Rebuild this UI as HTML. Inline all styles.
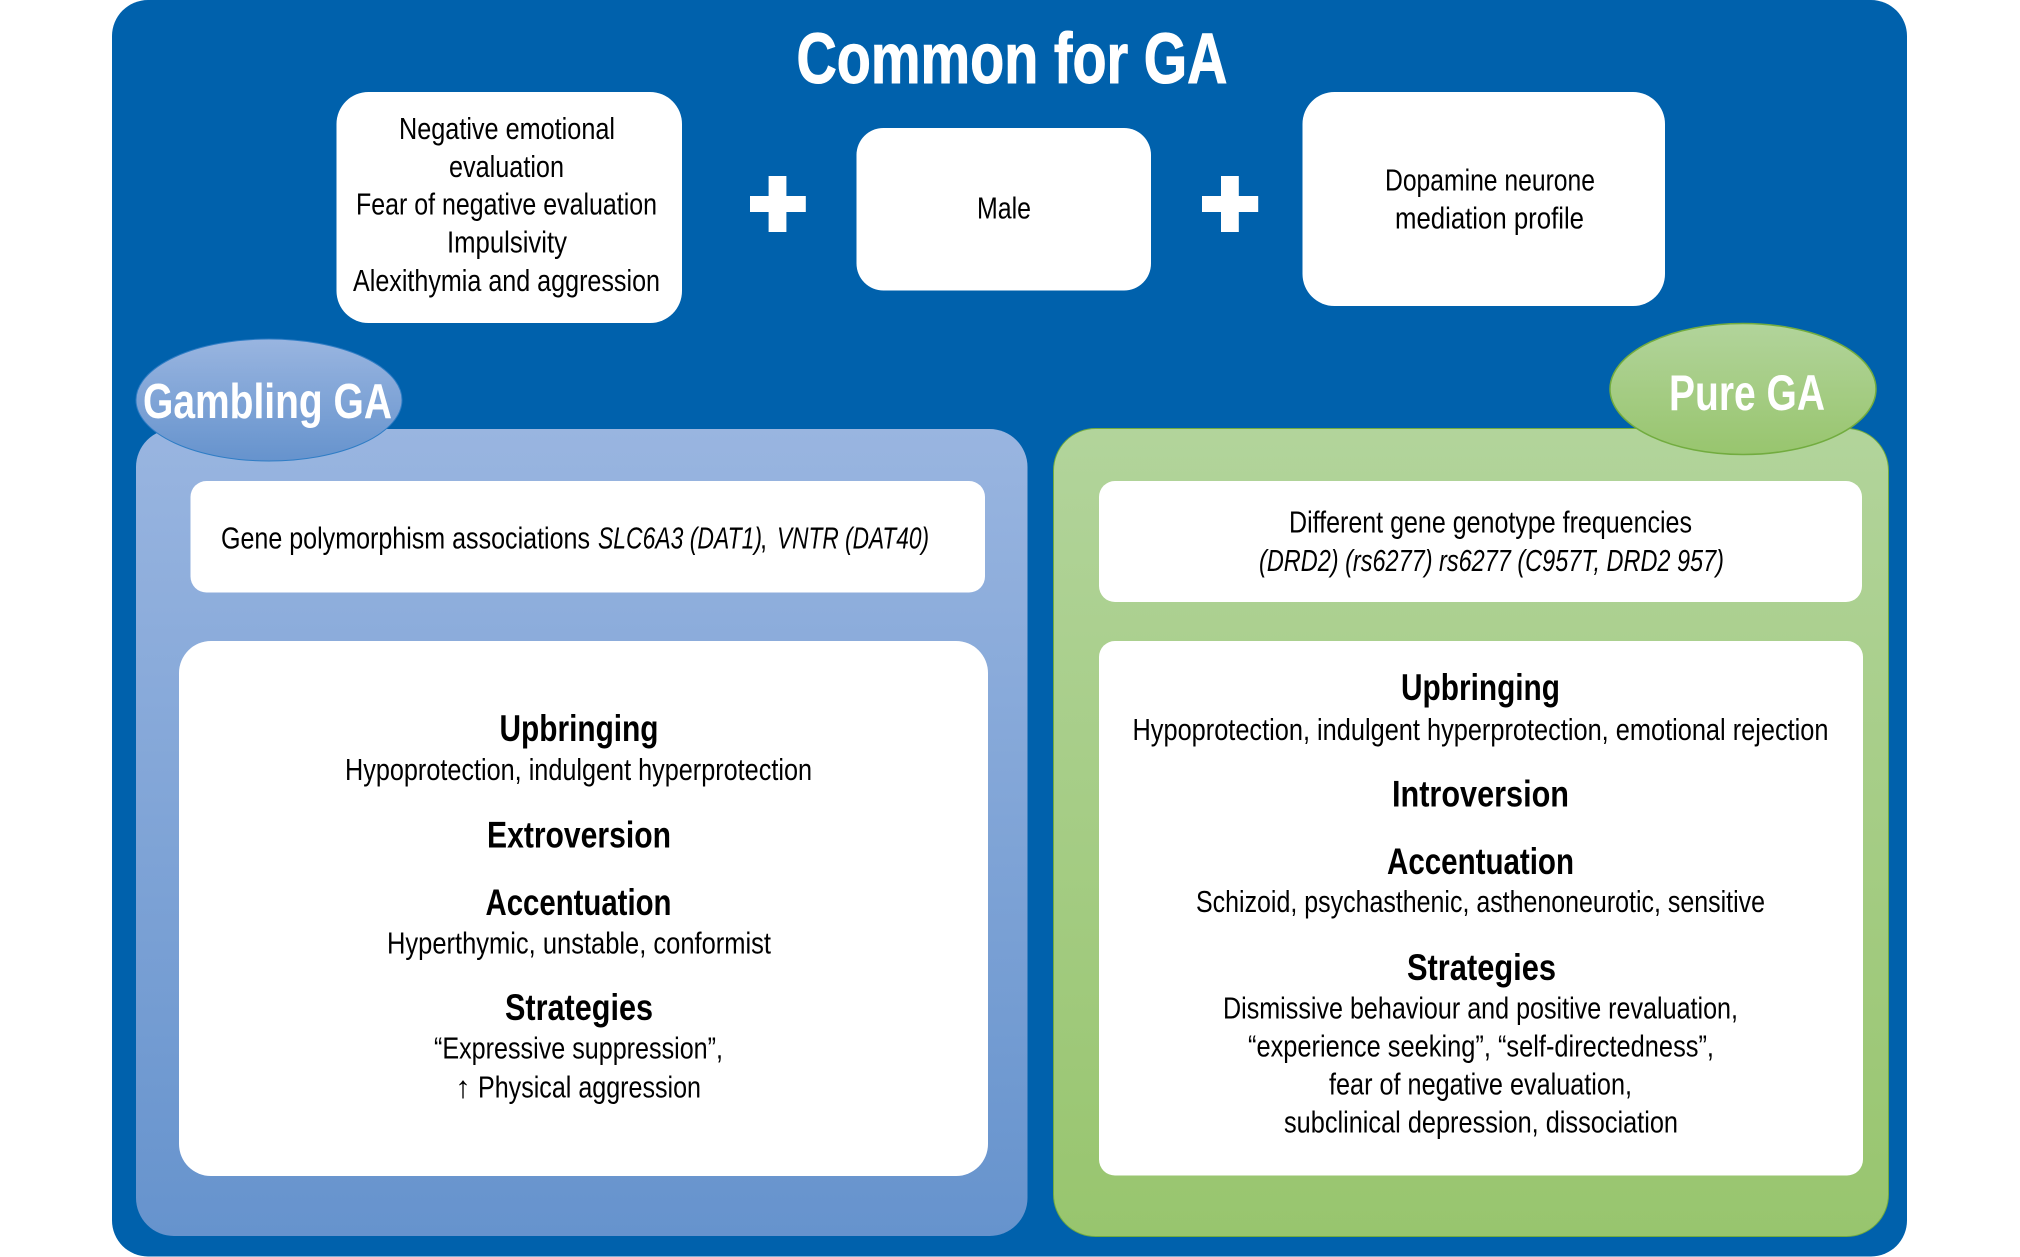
<!DOCTYPE html>
<html>
<head>
<meta charset="utf-8">
<title>Common for GA</title>
<style>
html,body{margin:0;padding:0;background:#fff;width:2020px;height:1257px;overflow:hidden}
svg{display:block}
text{font-family:"Liberation Sans",sans-serif;fill:#000;font-size:30.5px}
.h{font-weight:700;font-size:37px}
.w{font-weight:700;fill:#fff}
.i{font-style:italic}
</style>
</head>
<body>
<svg xmlns="http://www.w3.org/2000/svg" width="2020" height="1257" viewBox="0 0 2020 1257">
<defs>
<linearGradient id="b" x1="0" y1="0" x2="0" y2="1"><stop offset="0" stop-color="#99B5E0"/><stop offset="1" stop-color="#6693CD"/></linearGradient>
<linearGradient id="g" x1="0" y1="0" x2="0" y2="1"><stop offset="0" stop-color="#B2D49B"/><stop offset="1" stop-color="#98C56E"/></linearGradient>
</defs>
<rect x="112" y="0" width="1795" height="1256.5" rx="36" ry="36" fill="#0061AC"/>

<text class="w" x="796.5" y="83" style="font-size:71px;stroke:#fff;stroke-width:1" textLength="431" lengthAdjust="spacingAndGlyphs">Common for GA</text>

<rect x="336.5" y="92" width="345.5" height="231" rx="32" fill="#fff"/>
<text x="399" y="139" textLength="216" lengthAdjust="spacingAndGlyphs">Negative emotional</text>
<text x="449" y="177" textLength="115" lengthAdjust="spacingAndGlyphs">evaluation</text>
<text x="356" y="214.5" textLength="301" lengthAdjust="spacingAndGlyphs">Fear of negative evaluation</text>
<text x="447" y="252.5" textLength="120" lengthAdjust="spacingAndGlyphs">Impulsivity</text>
<text x="353" y="291" textLength="307" lengthAdjust="spacingAndGlyphs">Alexithymia and aggression</text>

<path d="M768.6 176h17.8v20h19.4v16h-19.4v20h-17.8v-20H750v-16h18.6z" fill="#fff"/>
<rect x="856.5" y="128" width="294.5" height="162.5" rx="27" fill="#fff"/>
<text x="977" y="218.5" textLength="54" lengthAdjust="spacingAndGlyphs">Male</text>
<path d="M1221 176h17.8v20h19.4v16h-19.4v20H1221v-20h-19v-16h19z" fill="#fff"/>

<rect x="1302.5" y="92" width="362.5" height="214" rx="32" fill="#fff"/>
<text x="1385" y="190.5" textLength="210" lengthAdjust="spacingAndGlyphs">Dopamine neurone</text>
<text x="1395" y="228.5" textLength="189" lengthAdjust="spacingAndGlyphs">mediation profile</text>

<!-- Gambling panel -->
<rect x="136" y="429" width="891.5" height="807" rx="38" fill="url(#b)"/>
<ellipse cx="269" cy="400" rx="133" ry="61" fill="url(#b)" stroke="#2F7DC5" stroke-width="1"/>
<text class="w" x="143" y="418" style="font-size:49px" textLength="249" lengthAdjust="spacingAndGlyphs">Gambling GA</text>
<rect x="190.5" y="481" width="794.5" height="111.5" rx="16" fill="#fff"/>
<text x="221" y="548.5" textLength="369" lengthAdjust="spacingAndGlyphs">Gene polymorphism associations</text>
<text class="i" x="598" y="548.5" textLength="164" lengthAdjust="spacingAndGlyphs">SLC6A3 (DAT1)</text>
<text x="760" y="548.5" textLength="7" lengthAdjust="spacingAndGlyphs">,</text>
<text class="i" x="777" y="548.5" textLength="152" lengthAdjust="spacingAndGlyphs">VNTR (DAT40)</text>

<rect x="179" y="641" width="809" height="535" rx="32" fill="#fff"/>
<text class="h" x="499.5" y="741" textLength="159" lengthAdjust="spacingAndGlyphs">Upbringing</text>
<text x="345" y="780" textLength="467" lengthAdjust="spacingAndGlyphs">Hypoprotection, indulgent hyperprotection</text>
<text class="h" x="487" y="847.5" textLength="184" lengthAdjust="spacingAndGlyphs">Extroversion</text>
<text class="h" x="485.5" y="915" textLength="186" lengthAdjust="spacingAndGlyphs">Accentuation</text>
<text x="387" y="953.5" textLength="384" lengthAdjust="spacingAndGlyphs">Hyperthymic, unstable, conformist</text>
<text class="h" x="505" y="1020" textLength="148" lengthAdjust="spacingAndGlyphs">Strategies</text>
<text x="434" y="1058.5" textLength="289" lengthAdjust="spacingAndGlyphs">“Expressive suppression”,</text>
<text x="455" y="1097.5" textLength="16" lengthAdjust="spacingAndGlyphs">↑</text>
<text x="478" y="1097.5" textLength="223" lengthAdjust="spacingAndGlyphs">Physical aggression</text>

<!-- Pure panel -->
<rect x="1053.5" y="428.5" width="835" height="808" rx="42" fill="url(#g)" stroke="#72AC3F" stroke-width="1"/>
<ellipse cx="1743" cy="389" rx="133" ry="65.5" fill="url(#g)" stroke="#72AC3F" stroke-width="1.5"/>
<text class="w" x="1669" y="410" style="font-size:50px" textLength="156" lengthAdjust="spacingAndGlyphs">Pure GA</text>
<rect x="1099" y="481" width="763" height="121" rx="16" fill="#fff"/>
<text x="1289" y="532.5" textLength="403" lengthAdjust="spacingAndGlyphs">Different gene genotype frequencies</text>
<text class="i" x="1259" y="571" textLength="465" lengthAdjust="spacingAndGlyphs">(DRD2) (rs6277) rs6277 (C957T, DRD2 957)</text>

<rect x="1099" y="641" width="764" height="534.5" rx="16" fill="#fff"/>
<text class="h" x="1401" y="700" textLength="159" lengthAdjust="spacingAndGlyphs">Upbringing</text>
<text x="1132.5" y="740" textLength="696" lengthAdjust="spacingAndGlyphs">Hypoprotection, indulgent hyperprotection, emotional rejection</text>
<text class="h" x="1392" y="806.5" textLength="177" lengthAdjust="spacingAndGlyphs">Introversion</text>
<text class="h" x="1387" y="874" textLength="187" lengthAdjust="spacingAndGlyphs">Accentuation</text>
<text x="1196" y="912" textLength="569" lengthAdjust="spacingAndGlyphs">Schizoid, psychasthenic, asthenoneurotic, sensitive</text>
<text class="h" x="1407" y="980" textLength="149" lengthAdjust="spacingAndGlyphs">Strategies</text>
<text x="1223" y="1018.5" textLength="515" lengthAdjust="spacingAndGlyphs">Dismissive behaviour and positive revaluation,</text>
<text x="1248" y="1056.5" textLength="466" lengthAdjust="spacingAndGlyphs">“experience seeking”, “self-directedness”,</text>
<text x="1329" y="1094.5" textLength="303" lengthAdjust="spacingAndGlyphs">fear of negative evaluation,</text>
<text x="1284" y="1132.5" textLength="394" lengthAdjust="spacingAndGlyphs">subclinical depression, dissociation</text>
</svg>
</body>
</html>
